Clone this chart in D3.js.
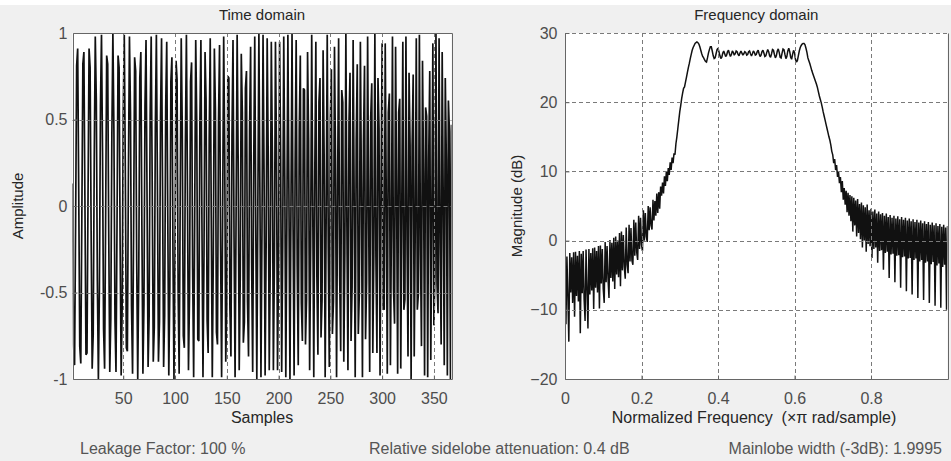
<!DOCTYPE html>
<html><head><meta charset="utf-8">
<script src="https://cdn.jsdelivr.net/npm/d3@7"></script>
<style>
html,body{margin:0;padding:0;background:#f0f0f0;}
svg{display:block;}
text{font-family:"Liberation Sans",Arial,sans-serif;white-space:pre;}
</style></head><body>
<svg id="chart" width="951" height="461"></svg>
<script>
// ---------- data ----------
const timeTitle = "Time domain";
const timeXLabel = "Samples";
const timeYLabel = "Amplitude";
const timeTicksX = [50, 100, 150, 200, 250, 300, 350];
const timeTicksY = [-1, -0.5, 0, 0.5, 1];
const timeTickLabelsY = ["-1", "-0.5", "0", "0.5", "1"];
const timeDomainX = [1, 367];
const timeDomainY = [-1, 1];

// amplitude of each sample (sample 1 .. 367)
const timeSamples = [
 0.13,-0.80,-0.92,-0.11,0.81,0.91,0.10,-0.81,-0.91,-0.09,
 0.82,0.89,0.03,-0.86,-0.85,0.06,0.91,0.80,-0.15,-0.94,
 -0.74,0.27,0.98,0.61,-0.43,-1.00,-0.47,0.58,0.99,0.31,
 -0.71,-0.94,-0.08,0.87,0.82,-0.17,-0.96,-0.65,0.41,1.00,
 0.43,-0.65,-0.96,-0.10,0.87,0.80,-0.23,-0.98,-0.56,0.54,
 0.99,0.22,-0.82,-0.84,0.19,0.98,0.54,-0.58,-0.97,-0.15,
 0.86,0.78,-0.32,-1.00,-0.38,0.74,0.89,-0.11,-0.97,-0.57,
 0.58,0.96,0.04,-0.93,-0.64,0.52,0.98,0.11,-0.90,-0.70,
 0.45,0.99,0.13,-0.90,-0.67,0.51,0.97,0.07,-0.93,-0.63,
 0.57,0.95,-0.06,-0.98,-0.47,0.72,0.86,-0.26,-1.00,-0.29,
 0.84,0.73,-0.49,-0.97,0.02,0.97,0.45,-0.75,-0.82,0.35,
 0.99,0.11,-0.95,-0.52,0.72,0.83,-0.36,-0.99,-0.07,0.96,
 0.48,-0.77,-0.78,0.47,0.96,-0.10,-0.99,-0.28,0.89,0.61,
 -0.66,-0.85,0.38,0.97,-0.06,-0.99,-0.27,0.91,0.56,-0.73,
 -0.80,0.48,0.93,-0.23,-0.99,-0.04,0.98,0.31,-0.90,-0.56,
 0.75,0.74,-0.59,-0.87,0.40,0.96,-0.18,-0.99,-0.03,0.99,
 0.25,-0.95,-0.40,0.88,0.54,-0.79,-0.67,0.68,0.78,-0.55,
 -0.87,0.43,0.92,-0.33,-0.96,0.23,0.98,-0.12,-1.00,0.01,
 1.00,0.07,-0.99,-0.12,0.99,0.18,-0.98,-0.23,0.97,0.29,
 -0.95,-0.31,0.95,0.31,-0.95,-0.31,0.95,0.31,-0.95,-0.31,
 0.95,0.29,-0.96,-0.23,0.98,0.17,-0.99,-0.12,0.99,0.07,
 -1.00,0.02,1.00,-0.12,-0.98,0.24,0.96,-0.34,-0.92,0.44,
 0.87,-0.56,-0.78,0.68,0.67,-0.80,-0.54,0.89,0.39,-0.95,
 -0.23,0.99,0.02,-0.99,0.20,0.95,-0.41,-0.86,0.60,0.74,
 -0.76,-0.54,0.90,0.30,-0.99,-0.03,0.99,-0.24,-0.93,0.50,
 0.79,-0.74,-0.55,0.92,0.25,-0.99,0.08,0.97,-0.40,-0.84,
 0.67,0.60,-0.90,-0.27,1.00,-0.12,-0.95,0.48,0.77,-0.78,
 -0.47,0.96,0.05,-0.99,0.38,0.82,-0.74,-0.50,0.95,0.09,
 -0.99,0.37,0.81,-0.77,-0.44,0.98,-0.04,-0.96,0.51,0.71,
 -0.85,-0.27,1.00,-0.29,-0.85,0.74,0.45,-0.98,0.08,0.94,
 -0.59,-0.60,0.94,0.04,-0.97,0.54,0.65,-0.92,-0.10,0.98,
 -0.48,-0.68,0.92,0.08,-0.97,0.54,0.62,-0.94,-0.01,0.95,
 -0.60,-0.54,0.98,-0.15,-0.87,0.77,0.35,-1.00,0.35,0.76,
 -0.87,-0.12,0.97,-0.60,-0.51,0.99,-0.23,-0.81,0.84,0.19,
 -0.98,0.57,0.52,-0.99,0.27,0.78,-0.89,-0.07,0.94,-0.69,
 -0.40,1.00,-0.45,-0.62,0.97,-0.21,-0.80,0.89,0.04,-0.92,
 0.74,0.27,-0.98,0.61,0.43,-1.00,0.47
];

const freqTitle = "Frequency domain";
const freqXLabel = "Normalized Frequency  (\u00D7\u03C0 rad/sample)";
const freqYLabel = "Magnitude (dB)";
const freqTicksX = [0, 0.2, 0.4, 0.6, 0.8];
const freqTickLabelsX = ["0", "0.2", "0.4", "0.6", "0.8"];
const freqTicksY = [-20, -10, 0, 10, 20, 30];
const freqDomainX = [0, 1];
const freqDomainY = [-20, 30];

// magnitude (dB) at evenly spaced normalized frequencies from 0 to 1
const freqMagnitudeDb = [
 -2.0,-12.1,-2.3,-8.0,-14.6,-1.8,-7.5,-2.4,-9.0,-1.7,
 -11.0,-1.6,-8.0,-2.2,-8.8,-1.5,-13.4,-1.9,-7.6,-1.5,
 -8.5,-11.6,-1.3,-7.0,-12.7,-1.2,-7.8,-1.8,-7.2,-1.1,
 -9.9,-1.0,-6.8,-1.5,-7.5,-0.8,-9.8,-0.7,-6.2,-1.2,
 -7.0,-9.0,-0.2,-6.0,-0.8,-5.5,-8.3,0.1,-5.4,-0.3,
 -5.9,0.4,-7.0,0.6,-4.9,0.0,-5.3,1.1,-6.6,1.3,
 -4.3,0.8,-3.8,-5.5,1.9,-3.5,-4.7,2.3,-3.0,1.8,
 -2.9,-3.5,3.0,-2.2,2.6,-1.7,-2.8,3.6,-1.2,3.3,
 -0.6,-1.5,4.4,0.0,4.0,0.6,-0.2,5.0,1.5,4.8,
 2.2,1.6,5.9,2.9,5.7,3.6,6.8,4.0,7.0,4.6,
 7.8,
 6.5,8.4,6.8,9.3,7.9,10.0,8.6,10.5,9.5,11.3,
 10.2,12.0,11.2,12.6,12.4,14.0,15.0,16.2,17.4,18.6,
 19.5,20.5,21.3,22.0,22.2,22.9,23.6,24.3,25.0,25.6,
 26.3,26.9,27.5,27.9,28.2,28.5,28.6,28.7,28.6,28.4,
 28.0,27.5,27.0,26.6,26.4,26.1,25.9,25.8,26.4,27.1,
 27.6,28.0,28.0,27.4,26.7,26.3,26.4,27.0,27.6,27.8,
 27.3,26.7,26.3,26.5,27.1,27.4,27.0,26.6,26.8,27.3,
 27.5,27.0,26.6,26.9,27.4,27.2,26.8,27.0,27.4,27.3,
 26.9,26.7,27.1,27.4,27.1,26.8,27.0,27.3,27.2,26.8,
 26.9,27.3,27.4,27.0,26.7,27.0,27.4,27.2,26.8,26.9,
 27.3,27.5,27.0,26.6,26.8,27.3,27.5,27.1,26.6,26.7,
 27.2,27.6,27.3,26.7,26.5,27.0,27.6,27.5,26.9,26.4,
 26.7,27.4,27.7,27.2,26.5,26.4,27.1,27.7,27.6,26.9,
 26.3,26.6,27.4,27.8,27.3,26.5,26.2,26.9,27.5,27.2,
 26.2,25.8,26.0,26.7,27.4,27.9,28.2,28.4,28.5,28.5,
 28.3,27.8,27.2,26.4,26.0,25.6,25.1,24.6,24.2,23.8,
 23.4,23.0,22.6,22.1,21.5,20.9,20.4,19.9,19.3,18.6,
 18.0,17.4,16.8,16.2,15.6,15.0,14.5,13.8,12.9,12.4,
 11.2,11.8,10.2,10.9,9.2,10.0,8.3,9.2,7.0,8.6,
 5.9,7.6,5.2,7.2,4.1,6.9,3.6,6.6,2.8,6.4,
 1.3,6.2,2.2,5.8,0.6,6.0,1.1,5.3,0.2,5.5,
 -1.0,5.1,0.0,4.8,-1.6,5.2,-0.5,4.4,-0.8,4.6,
 -2.5,4.2,-1.2,4.5,-1.0,3.9,-3.2,4.2,-1.5,3.8,
 -1.4,4.0,-4.2,3.6,-1.8,3.9,-1.6,3.4,-5.4,3.7,
 -2.0,3.3,-1.9,3.6,-6.0,3.2,-2.2,3.5,-2.1,3.1,
 -6.8,3.4,-2.4,3.0,-2.3,3.3,-7.3,2.9,-2.6,3.2,
 -2.5,2.8,-7.8,3.1,-2.8,2.7,-2.6,3.0,-8.3,2.6,
 -3.0,2.9,-2.8,2.5,-8.6,2.8,-3.2,2.4,-3.0,2.7,
 -9.0,2.3,-3.4,2.6,-3.1,2.2,-9.4,2.5,-3.6,2.1,
 -3.3,2.4,-9.7,2.0,-3.8,2.3,-3.5,1.9,-10.0,2.1
];

const footerTexts = [
  "Leakage Factor: 100 %",
  "Relative sidelobe attenuation: 0.4 dB",
  "Mainlobe width (-3dB): 1.9995"
];

// ---------- drawing ----------
const W = 951, H = 461;
const svg = d3.select("#chart");
svg.append("rect").attr("width", W).attr("height", H).attr("fill", "#f0f0f0");
svg.append("rect").attr("width", W).attr("height", 5).attr("fill", "#ffffff");

const gridColor = "#7a7a7a";
const boxColor = "#666666";
const labelColor = "#4d4d4d";
const lineColor = "#111111";

function drawPanel(cfg) {
  const x = d3.scaleLinear().domain(cfg.xDomain).range([cfg.left, cfg.right]);
  const y = d3.scaleLinear().domain(cfg.yDomain).range([cfg.bottom, cfg.top]);
  const g = svg.append("g");
  const w = cfg.right - cfg.left, h = cfg.bottom - cfg.top;

  g.append("rect").attr("x", cfg.left).attr("y", cfg.top)
    .attr("width", w).attr("height", h).attr("fill", "#ffffff");

  const clipId = "clip-" + cfg.id;
  svg.append("clipPath").attr("id", clipId).append("rect")
    .attr("x", cfg.left).attr("y", cfg.top).attr("width", w).attr("height", h);

  // data line
  const line = d3.line().x(d => x(d[0])).y(d => y(d[1]));
  g.append("path").datum(cfg.points)
    .attr("clip-path", "url(#" + clipId + ")")
    .attr("fill", "none").attr("stroke", lineColor).attr("stroke-width", cfg.lineWidth)
    .attr("stroke-linejoin", "miter").attr("stroke-miterlimit", 2)
    .attr("d", line);

  // grid (dashed, above data)
  const grid = g.append("g").attr("stroke", gridColor).attr("stroke-width", 1)
    .attr("stroke-dasharray", "4,3");
  cfg.xTicks.forEach(t => {
    const px = Math.round(x(t)) + 0.5;
    if (px <= cfg.left + 1 || px >= cfg.right - 1) return;
    grid.append("line").attr("x1", px).attr("x2", px).attr("y1", cfg.top).attr("y2", cfg.bottom);
  });
  cfg.yTicks.forEach(t => {
    const py = Math.round(y(t)) + 0.5;
    if (py >= cfg.bottom - 1) return;
    if (py <= cfg.top + 1 && !cfg.dashedTop) return;
    grid.append("line").attr("x1", cfg.left).attr("x2", cfg.right).attr("y1", py).attr("y2", py);
  });

  // box
  const L = Math.round(cfg.left) + 0.5, R = Math.round(cfg.right) + 0.5;
  const T = Math.round(cfg.top) + 0.5, B = Math.round(cfg.bottom) + 0.5;
  const box = g.append("g").attr("stroke", boxColor).attr("stroke-width", 1).attr("fill", "none");
  box.append("line").attr("x1", L).attr("x2", L).attr("y1", T).attr("y2", B);
  box.append("line").attr("x1", R).attr("x2", R).attr("y1", T).attr("y2", B);
  box.append("line").attr("x1", L).attr("x2", R).attr("y1", B).attr("y2", B);
  if (!cfg.dashedTop) box.append("line").attr("x1", L).attr("x2", R).attr("y1", T).attr("y2", T);

  // axes (tick labels + small inward ticks)
  const ax = d3.axisBottom(x).tickValues(cfg.xTicks).tickSize(-4).tickPadding(13)
    .tickFormat((d, i) => cfg.xTickLabels ? cfg.xTickLabels[i] : d3.format("")(d));
  const axG = g.append("g").attr("transform", `translate(0,${B})`).call(ax);
  const ay = d3.axisLeft(y).tickValues(cfg.yTicks).tickSize(-4).tickPadding(cfg.yPad)
    .tickFormat((d, i) => cfg.yTickLabels ? cfg.yTickLabels[i] : d3.format("")(d));
  const ayG = g.append("g").attr("transform", `translate(${L},0)`).call(ay);
  [axG, ayG].forEach(a => {
    a.select(".domain").remove();
    a.selectAll(".tick line").attr("stroke", boxColor);
    a.selectAll("text").attr("fill", labelColor).style("font-size", "16px")
      .style("font-family", '"Liberation Sans", Arial, sans-serif');
  });

  // titles
  const cx = (cfg.left + cfg.right) / 2, cy = (cfg.top + cfg.bottom) / 2;
  g.append("text").attr("x", cx).attr("y", 20).attr("text-anchor", "middle")
    .attr("fill", "#262626").style("font-size", "15px").text(cfg.title);
  g.append("text").attr("x", cfg.xLabelX).attr("y", 423).attr("text-anchor", "middle")
    .attr("fill", "#262626").style("font-size", "16px").text(cfg.xLabel);
  g.append("text").attr("transform", `translate(${cfg.yLabelX},${cy}) rotate(-90)`)
    .attr("text-anchor", "middle").attr("fill", "#262626").style("font-size", "15px")
    .text(cfg.yLabel);
}

drawPanel({
  id: "time", left: 72.5, right: 451.5, top: 33, bottom: 379,
  xDomain: timeDomainX, yDomain: timeDomainY,
  xTicks: timeTicksX, yTicks: timeTicksY, yTickLabels: timeTickLabelsY, yPad: 6,
  points: timeSamples.map((v, i) => [i + 1, v]), lineWidth: 1.7,
  title: timeTitle, xLabel: timeXLabel, xLabelX: 262, yLabel: timeYLabel, yLabelX: 23
});

drawPanel({
  id: "freq", left: 565, right: 947.5, top: 33, bottom: 379,
  xDomain: freqDomainX, yDomain: freqDomainY,
  xTicks: freqTicksX, xTickLabels: freqTickLabelsX, yTicks: freqTicksY, yPad: 8,
  dashedTop: true,
  points: freqMagnitudeDb.map((v, i) => [i / (freqMagnitudeDb.length - 1), v]), lineWidth: 1.5,
  title: freqTitle, xLabel: freqXLabel, xLabelX: 754, yLabel: freqYLabel, yLabelX: 522
});

// footer
const footerPos = [[80, "start"], [369, "start"], [942, "end"]];
footerTexts.forEach((t, i) => {
  svg.append("text").attr("x", footerPos[i][0]).attr("y", 454)
    .attr("text-anchor", footerPos[i][1]).attr("fill", "#555555")
    .style("font-size", "16px").text(t);
});
</script>
</body></html>
